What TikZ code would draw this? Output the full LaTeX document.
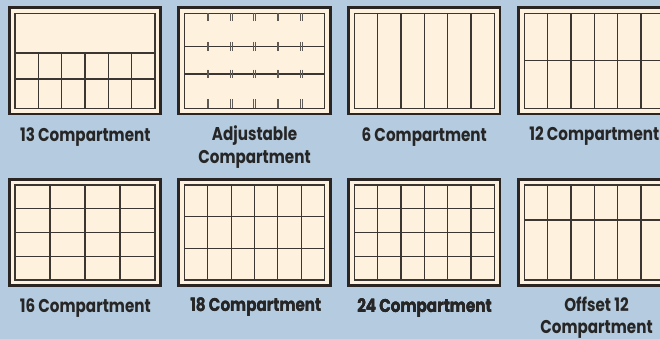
\documentclass[tikz,border=0pt]{standalone}
\usepackage{fontspec}
\setmainfont{Poppins}[FakeStretch=0.82]
\definecolor{bg}{HTML}{B5CBDF}
\definecolor{cream}{HTML}{FEF2DE}
\definecolor{frame}{HTML}{2A2522}
\definecolor{divider}{HTML}{3B3632}
\definecolor{tick}{HTML}{5E5A56}
\definecolor{ink}{HTML}{262626}
\tikzset{
  outerbox/.style={draw=frame, line width=2.8pt, fill=cream},
  innerbox/.style={draw=divider, line width=1.4pt},
  divline/.style={draw=divider, line width=1.2pt},
  tickline/.style={draw=tick, line width=0.8pt},
  lbl/.style={font=\fontsize{18.5}{22}\selectfont\bfseries, text=ink, anchor=base, inner sep=0pt},
}
\newcommand\trayframe[2]{%
  \draw[outerbox] (#1-5.7,#2-5.7) rectangle (#1+145.7,#2+100.7);
  \draw[innerbox] (#1,#2) rectangle (#1+140,#2+95);}
\newcommand\sixcols[3]{% X, ytop, ybottom
  \foreach \i in {1,...,5} \draw[divline] (#1+\i*140/6,#2) -- (#1+\i*140/6,#3);}
\newcommand\trayrow[2]{\draw[divline] (#1,#2) -- (#1+140,#2);}
\newcommand\tickpair[3]{% x, y1, y2
  \draw[tickline] (#1-0.9,#2) -- (#1-0.9,#3);
  \draw[tickline] (#1+0.9,#2) -- (#1+0.9,#3);}
\begin{document}
\begin{tikzpicture}[x=1pt,y=-1pt]
\fill[bg] (0,0) rectangle (660,339);
\useasboundingbox (0,0) rectangle (660,339);
\clip (0,0) rectangle (660,339);
% ---- top row ----
% 13 compartment
\trayframe{15}{13.4}
\trayrow{15}{53}
\trayrow{15}{79}
\sixcols{15}{53}{108.4}
\node[lbl] (l13) at (85.3,141.2) {13 Compartment};
% adjustable
\trayframe{184.5}{13.4}
\trayrow{184.5}{46.3}
\trayrow{184.5}{74}
\foreach \k in {1,...,5} {
  \pgfmathsetmacro\tx{184.5+\k*140/6}
  \tickpair{\tx}{13.4}{21.5}
  \tickpair{\tx}{41.8}{50.6}
  \tickpair{\tx}{69.6}{78.2}
  \tickpair{\tx}{99.5}{108.4}
}
\node[lbl] (ladj1) at (254.5,140.7) {Adjustable};
\node[lbl] (ladj2) at (254.5,163) {Compartment};
% 6 compartment
\trayframe{354.3}{13.4}
\sixcols{354.3}{13.4}{108.4}
\node[lbl] (l6) at (424.2,141.3) {6 Compartment};
% 12 compartment
\trayframe{524.3}{13.4}
\trayrow{524.3}{60.9}
\sixcols{524.3}{13.4}{108.4}
\node[lbl] (l12) at (594.3,140.5) {12 Compartment};
% ---- bottom row ----
% 16 compartment
\trayframe{15}{185}
\foreach \j in {1,2,3} \trayrow{15}{185+\j*95/4}
\foreach \i in {1,2,3} \draw[divline] (15+\i*35,185) -- (15+\i*35,280);
\node[lbl] (l16) at (85.3,312.5) {16 Compartment};
% 18 compartment
\trayframe{184.5}{185}
\foreach \j in {1,2} \trayrow{184.5}{185+\j*95/3}
\sixcols{184.5}{185}{280}
\node[lbl] (l18) at (255.8,311.5) {18 Compartment};
% 24 compartment
\trayframe{354.3}{185}
\foreach \j in {1,2,3} \trayrow{354.3}{185+\j*95/4}
\sixcols{354.3}{185}{280}
\node[lbl] (l24) at (424.5,312) {24 Compartment};
% offset 12
\trayframe{524.3}{185}
\trayrow{524.3}{220}
\sixcols{524.3}{185}{280}
\node[lbl] (loff1) at (596.5,311.3) {Offset 12};
\node[lbl] (loff2) at (596.5,333.3) {Compartment};
\end{tikzpicture}
\end{document}
